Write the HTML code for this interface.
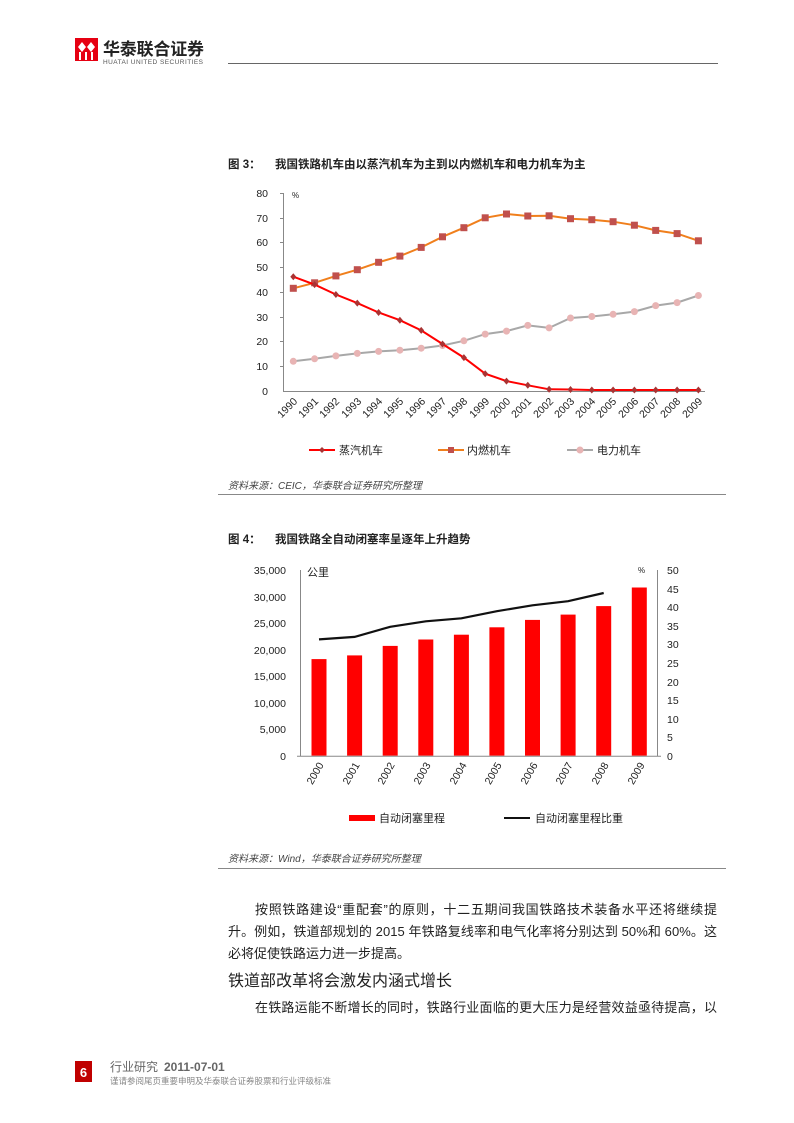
<!DOCTYPE html>
<html><head><meta charset="utf-8"><style>
html,body{margin:0;padding:0;background:#fff}
body{width:794px;height:1123px;position:relative;overflow:hidden;font-family:"Liberation Sans","Noto Sans CJK SC",sans-serif}
svg{position:absolute;left:0;top:0}
.t{font-family:"Liberation Sans","Noto Sans CJK SC",sans-serif}
</style></head><body>
<svg width="794" height="1123" viewBox="0 0 794 1123" class="t">
<!-- header -->
<rect x="75" y="38" width="23" height="23" fill="#e60012"/>
<path d="M78 47 l4 -5 4 5 -4 5z M87 47 l4 -5 4 5 -4 5z" fill="#fff"/>
<rect x="79" y="52" width="2" height="8" fill="#fff"/><rect x="85" y="52" width="2" height="8" fill="#fff"/><rect x="91" y="52" width="2" height="8" fill="#fff"/>
<text x="103" y="55" font-size="17" font-weight="bold" fill="#222" textLength="101">华泰联合证券</text>
<text x="103" y="64" font-size="6.5" fill="#555" textLength="100">HUATAI UNITED SECURITIES</text>
<line x1="228" y1="63.5" x2="718" y2="63.5" stroke="#666" stroke-width="1"/>

<!-- figure 3 -->
<text x="228" y="168" font-size="11.5" font-weight="bold" fill="#222">图 3：</text>
<text x="275" y="168" font-size="11.5" font-weight="bold" fill="#222">我国铁路机车由以蒸汽机车为主到以内燃机车和电力机车为主</text>
<g font-size="10.5" fill="#222" text-anchor="end">
<text x="268" y="197">80</text><text x="268" y="222">70</text><text x="268" y="246">60</text><text x="268" y="271">50</text><text x="268" y="296">40</text><text x="268" y="321">30</text><text x="268" y="345">20</text><text x="268" y="370">10</text><text x="268" y="395">0</text>
</g>
<text x="292" y="198" font-size="8" fill="#222">%</text>
<g stroke="#888" stroke-width="1">
<line x1="283.5" y1="193" x2="283.5" y2="391"/><line x1="283" y1="391.5" x2="705" y2="391.5"/>
<line x1="280" y1="193.5" x2="283" y2="193.5"/><line x1="280" y1="218.5" x2="283" y2="218.5"/><line x1="280" y1="242.5" x2="283" y2="242.5"/><line x1="280" y1="267.5" x2="283" y2="267.5"/><line x1="280" y1="292.5" x2="283" y2="292.5"/><line x1="280" y1="317.5" x2="283" y2="317.5"/><line x1="280" y1="341.5" x2="283" y2="341.5"/><line x1="280" y1="366.5" x2="283" y2="366.5"/>
</g>
<g font-size="10.5" fill="#222" text-anchor="end">
<text transform="translate(298,402) rotate(-45)">1990</text><text transform="translate(319,402) rotate(-45)">1991</text><text transform="translate(340,402) rotate(-45)">1992</text><text transform="translate(362,402) rotate(-45)">1993</text><text transform="translate(383,402) rotate(-45)">1994</text><text transform="translate(404,402) rotate(-45)">1995</text><text transform="translate(426,402) rotate(-45)">1996</text><text transform="translate(447,402) rotate(-45)">1997</text><text transform="translate(468,402) rotate(-45)">1998</text><text transform="translate(490,402) rotate(-45)">1999</text><text transform="translate(511,402) rotate(-45)">2000</text><text transform="translate(532,402) rotate(-45)">2001</text><text transform="translate(554,402) rotate(-45)">2002</text><text transform="translate(575,402) rotate(-45)">2003</text><text transform="translate(596,402) rotate(-45)">2004</text><text transform="translate(617,402) rotate(-45)">2005</text><text transform="translate(639,402) rotate(-45)">2006</text><text transform="translate(660,402) rotate(-45)">2007</text><text transform="translate(681,402) rotate(-45)">2008</text><text transform="translate(703,402) rotate(-45)">2009</text>
</g>
<polyline fill="none" stroke="#a8a8a8" stroke-width="2" points="293.3,361.3 314.6,358.8 335.9,355.9 357.3,353.4 378.6,351.4 399.9,350.2 421.2,348.2 442.5,345.5 463.9,340.8 485.2,334.1 506.5,331.1 527.8,325.4 549.1,327.9 570.5,318 591.8,316.5 613.1,314.3 634.4,311.6 655.7,305.6 677.1,302.6 698.4,295.5"/>
<g fill="#e8b4b4">
<circle cx="293.3" cy="361.3" r="3.5"/><circle cx="314.6" cy="358.8" r="3.5"/><circle cx="335.9" cy="355.9" r="3.5"/><circle cx="357.3" cy="353.4" r="3.5"/><circle cx="378.6" cy="351.4" r="3.5"/><circle cx="399.9" cy="350.2" r="3.5"/><circle cx="421.2" cy="348.2" r="3.5"/><circle cx="442.5" cy="345.5" r="3.5"/><circle cx="463.9" cy="340.8" r="3.5"/><circle cx="485.2" cy="334.1" r="3.5"/><circle cx="506.5" cy="331.1" r="3.5"/><circle cx="527.8" cy="325.4" r="3.5"/><circle cx="549.1" cy="327.9" r="3.5"/><circle cx="570.5" cy="318" r="3.5"/><circle cx="591.8" cy="316.5" r="3.5"/><circle cx="613.1" cy="314.3" r="3.5"/><circle cx="634.4" cy="311.6" r="3.5"/><circle cx="655.7" cy="305.6" r="3.5"/><circle cx="677.1" cy="302.6" r="3.5"/><circle cx="698.4" cy="295.5" r="3.5"/>
</g>
<polyline fill="none" stroke="#f07f1c" stroke-width="2" points="293.3,288.3 314.6,282.8 335.9,275.9 357.3,269.7 378.6,262.3 399.9,256.1 421.2,247.4 442.5,236.8 463.9,227.7 485.2,217.8 506.5,214 527.8,216 549.1,215.8 570.5,218.7 591.8,219.7 613.1,221.7 634.4,225.2 655.7,230.4 677.1,233.6 698.4,240.8"/>
<g fill="#c0504d">
<rect x="289.8" y="284.8" width="7" height="7"/><rect x="311.1" y="279.3" width="7" height="7"/><rect x="332.4" y="272.4" width="7" height="7"/><rect x="353.8" y="266.2" width="7" height="7"/><rect x="375.1" y="258.8" width="7" height="7"/><rect x="396.4" y="252.6" width="7" height="7"/><rect x="417.7" y="243.9" width="7" height="7"/><rect x="439" y="233.3" width="7" height="7"/><rect x="460.4" y="224.2" width="7" height="7"/><rect x="481.7" y="214.3" width="7" height="7"/><rect x="503" y="210.5" width="7" height="7"/><rect x="524.3" y="212.5" width="7" height="7"/><rect x="545.6" y="212.3" width="7" height="7"/><rect x="567" y="215.2" width="7" height="7"/><rect x="588.3" y="216.2" width="7" height="7"/><rect x="609.6" y="218.2" width="7" height="7"/><rect x="630.9" y="221.7" width="7" height="7"/><rect x="652.2" y="226.9" width="7" height="7"/><rect x="673.6" y="230.1" width="7" height="7"/><rect x="694.9" y="237.3" width="7" height="7"/>
</g>
<polyline fill="none" stroke="#ff0000" stroke-width="2" points="293.3,276.7 314.6,284.6 335.9,294.5 357.3,303.1 378.6,312.5 399.9,320.2 421.2,330.4 442.5,344 463.9,357.6 485.2,373.7 506.5,381.1 527.8,385.3 549.1,389.3 570.5,389.5 591.8,390 613.1,390 634.4,390 655.7,390 677.1,390 698.4,390"/>
<g fill="#a33">
<path d="M293.3 273.2l3 3.5-3 3.5-3-3.5z"/><path d="M314.6 281.1l3 3.5-3 3.5-3-3.5z"/><path d="M335.9 291l3 3.5-3 3.5-3-3.5z"/><path d="M357.3 299.6l3 3.5-3 3.5-3-3.5z"/><path d="M378.6 309l3 3.5-3 3.5-3-3.5z"/><path d="M399.9 316.7l3 3.5-3 3.5-3-3.5z"/><path d="M421.2 326.9l3 3.5-3 3.5-3-3.5z"/><path d="M442.5 340.5l3 3.5-3 3.5-3-3.5z"/><path d="M463.9 354.1l3 3.5-3 3.5-3-3.5z"/><path d="M485.2 370.2l3 3.5-3 3.5-3-3.5z"/><path d="M506.5 377.6l3 3.5-3 3.5-3-3.5z"/><path d="M527.8 381.8l3 3.5-3 3.5-3-3.5z"/><path d="M549.1 385.8l3 3.5-3 3.5-3-3.5z"/><path d="M570.5 386l3 3.5-3 3.5-3-3.5z"/><path d="M591.8 386.5l3 3.5-3 3.5-3-3.5z"/><path d="M613.1 386.5l3 3.5-3 3.5-3-3.5z"/><path d="M634.4 386.5l3 3.5-3 3.5-3-3.5z"/><path d="M655.7 386.5l3 3.5-3 3.5-3-3.5z"/><path d="M677.1 386.5l3 3.5-3 3.5-3-3.5z"/><path d="M698.4 386.5l3 3.5-3 3.5-3-3.5z"/>
</g>
<!-- legend 1 -->
<line x1="309" y1="450" x2="335" y2="450" stroke="#ff0000" stroke-width="2"/><path d="M322 447l3 3-3 3-3-3z" fill="#a33"/>
<text x="339" y="454" font-size="11" fill="#222">蒸汽机车</text>
<line x1="438" y1="450" x2="464" y2="450" stroke="#f07f1c" stroke-width="2"/><rect x="448" y="447" width="6" height="6" fill="#c0504d"/>
<text x="467" y="454" font-size="11" fill="#222">内燃机车</text>
<line x1="567" y1="450" x2="593" y2="450" stroke="#a8a8a8" stroke-width="2"/><circle cx="580" cy="450" r="3.5" fill="#e8b4b4"/>
<text x="597" y="454" font-size="11" fill="#222">电力机车</text>
<text x="228" y="489" font-size="10" font-style="italic" fill="#444">资料来源：CEIC，华泰联合证券研究所整理</text>
<line x1="218" y1="494.5" x2="726" y2="494.5" stroke="#888" stroke-width="1"/>

<!-- figure 4 -->
<text x="228" y="543" font-size="11.5" font-weight="bold" fill="#222">图 4：</text>
<text x="275" y="543" font-size="11.5" font-weight="bold" fill="#222">我国铁路全自动闭塞率呈逐年上升趋势</text>
<g font-size="10.5" fill="#222" text-anchor="end">
<text x="286" y="574">35,000</text><text x="286" y="601">30,000</text><text x="286" y="627">25,000</text><text x="286" y="654">20,000</text><text x="286" y="680">15,000</text><text x="286" y="707">10,000</text><text x="286" y="733">5,000</text><text x="286" y="760">0</text>
</g>
<g font-size="10.5" fill="#222">
<text x="667" y="574">50</text><text x="667" y="593">45</text><text x="667" y="611">40</text><text x="667" y="630">35</text><text x="667" y="648">30</text><text x="667" y="667">25</text><text x="667" y="686">20</text><text x="667" y="704">15</text><text x="667" y="723">10</text><text x="667" y="741">5</text><text x="667" y="760">0</text>
</g>
<text x="307" y="576" font-size="11" fill="#222">公里</text>
<text x="638" y="573" font-size="8" fill="#222">%</text>
<g fill="#ff0000">
<rect x="311.5" y="659.1" width="15" height="96.6"/><rect x="347.1" y="655.4" width="15" height="100.3"/><rect x="382.7" y="645.9" width="15" height="109.8"/><rect x="418.3" y="639.5" width="15" height="116.2"/><rect x="453.9" y="634.7" width="15" height="121"/><rect x="489.4" y="627.3" width="15" height="128.4"/><rect x="525" y="619.9" width="15" height="135.8"/><rect x="560.6" y="614.6" width="15" height="141.1"/><rect x="596.2" y="606.1" width="15" height="149.6"/><rect x="631.8" y="587.5" width="15" height="168.2"/>
</g>
<g stroke="#888" stroke-width="1">
<line x1="300.5" y1="570" x2="300.5" y2="756"/><line x1="657.5" y1="570" x2="657.5" y2="756"/><line x1="297" y1="756.2" x2="661" y2="756.2"/>
</g>
<polyline fill="none" stroke="#111" stroke-width="2.2" points="319,639.4 354.6,636.9 390.2,626.8 425.8,621.3 461.4,618.3 496.9,611.2 532.5,605.3 568.1,601.2 603.7,593"/>
<g font-size="10.5" fill="#222" text-anchor="end">
<text transform="translate(324,765) rotate(-60)">2000</text><text transform="translate(360,765) rotate(-60)">2001</text><text transform="translate(395,765) rotate(-60)">2002</text><text transform="translate(431,765) rotate(-60)">2003</text><text transform="translate(467,765) rotate(-60)">2004</text><text transform="translate(502,765) rotate(-60)">2005</text><text transform="translate(538,765) rotate(-60)">2006</text><text transform="translate(573,765) rotate(-60)">2007</text><text transform="translate(609,765) rotate(-60)">2008</text><text transform="translate(645,765) rotate(-60)">2009</text>
</g>
<rect x="349" y="815" width="26" height="6" fill="#ff0000"/>
<text x="379" y="822" font-size="11" fill="#222">自动闭塞里程</text>
<line x1="504" y1="818" x2="530" y2="818" stroke="#111" stroke-width="2"/>
<text x="535" y="822" font-size="11" fill="#222">自动闭塞里程比重</text>
<text x="228" y="862" font-size="10" font-style="italic" fill="#444">资料来源：Wind，华泰联合证券研究所整理</text>
<line x1="218" y1="868.5" x2="726" y2="868.5" stroke="#888" stroke-width="1"/>

<!-- body text -->
<g font-size="13" fill="#222">
<text x="255" y="914" textLength="462">按照铁路建设“重配套”的原则，十二五期间我国铁路技术装备水平还将继续提</text>
<text x="228" y="936" textLength="489">升。例如，铁道部规划的 2015 年铁路复线率和电气化率将分别达到 50%和 60%。这</text>
<text x="228" y="958">必将促使铁路运力进一步提高。</text>
<text x="228" y="986" font-size="16">铁道部改革将会激发内涵式增长</text>
<text x="255" y="1012" textLength="462">在铁路运能不断增长的同时，铁路行业面临的更大压力是经营效益亟待提高，以</text>
</g>

<!-- footer -->
<rect x="75" y="1061" width="17" height="21" fill="#c00000"/>
<text x="83.5" y="1077" font-size="13" font-weight="bold" fill="#fff" text-anchor="middle">6</text>
<text x="110" y="1071" font-size="12" fill="#666">行业研究</text>
<text x="164" y="1071" font-size="12" font-weight="bold" fill="#666">2011-07-01</text>
<text x="110" y="1084" font-size="8.5" fill="#888">谨请参阅尾页重要申明及华泰联合证券股票和行业评级标准</text>
</svg>
</body></html>
